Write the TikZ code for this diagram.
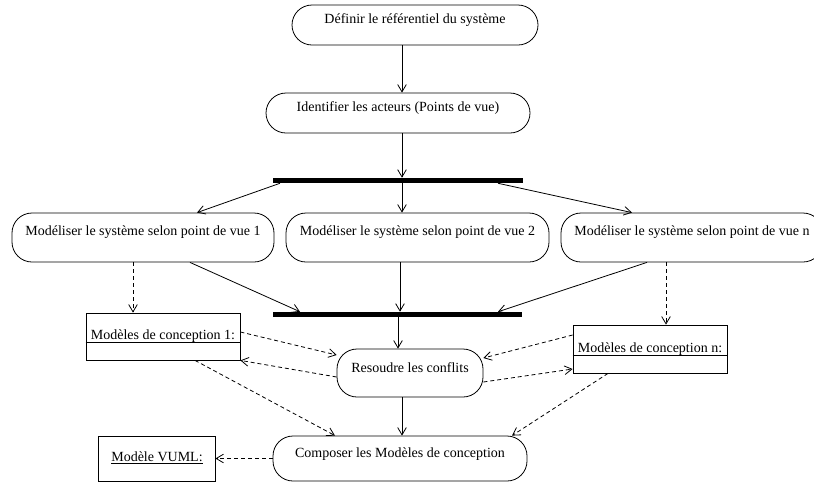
\documentclass[tikz,border=0pt]{standalone}
\usepackage{fontspec}
\setmainfont{Liberation Serif}
\usetikzlibrary{arrows.meta,fit}
\tikzset{
  act/.style={draw, rounded corners=15pt, inner sep=0pt, line width=0.6pt, font=\fontsize{10.5}{12}\selectfont},
  obj/.style={draw, inner sep=0pt, line width=0.6pt},
  lbl/.style={inner sep=0pt, font=\fontsize{10.5}{12}\selectfont},
  bar/.style={fill=black, inner sep=0pt},
  flow/.style={line width=0.6pt, -{Straight Barb[length=5.5pt,width=6.5pt]}},
  dep/.style={flow, dash pattern=on 3pt off 2.2pt}
}
\begin{document}
\begin{tikzpicture}[x=0.75pt,y=-0.75pt]
\useasboundingbox (0,0) rectangle (814,483);
\clip (0,0) rectangle (814,483);
% activities
\node[act, fit={(292,5)(538,45)}] (A) {Définir le référentiel du système};
\node[act, fit={(266,93)(530,133)}] (B) {Identifier les acteurs (Points de vue)};
\node[bar, fit={(273,178)(523,183)}] (bar1) {};
\node[act, fit={(12,213)(274,262)}] (v1) {Modéliser le système selon point de vue 1};
\node[act, fit={(286,213)(549,262)}] (v2) {Modéliser le système selon point de vue 2};
\node[act, fit={(561,213)(823,262)}] (vn) {Modéliser le système selon point de vue n};
\node[bar, fit={(273,312)(522,317)}] (bar2) {};
\node[act, fit={(337,349)(483,397)}] (res) {Resoudre les conflits};
\node[act, fit={(273,436)(527,481)}] (comp) {Composer les Modèles de conception};
% objects
\node[obj, fit={(86,313)(240,360)}] (mc1) {};
\node[lbl, anchor=base] (mc1t) at (163,339.5) {Modèles de conception 1:};
\draw[line width=0.6pt] (mc1.west |- 0,342) -- (mc1.east |- 0,342);
\node[obj, fit={(573,325)(727,373)}] (mcn) {};
\node[lbl, anchor=base] (mcnt) at (650,352) {Modèles de conception n:};
\draw[line width=0.6pt] (mcn.west |- 0,355) -- (mcn.east |- 0,355);
\node[obj, fit={(98,436)(215,481)}] (vuml) {};
\node[lbl] (vumlt) at (157,458) {\underline{Modèle VUML:}};
% control flow
\draw[flow] (A.south -| 402,0) -- (B.north -| 402,0);
\draw[flow] (B.south -| 402,0) -- (bar1.north -| 402,0);
\draw[flow] (bar1.south -| 280,0) -- (v1.north -| 197,0);
\draw[flow] (bar1.south -| 402,0) -- (v2.north -| 402,0);
\draw[flow] (bar1.south -| 498,0) -- (vn.north -| 632,0);
\draw[flow] (v1.south -| 190,0) -- (bar2.north -| 300,0);
\draw[flow] (v2.south -| 400,0) -- (bar2.north -| 400,0);
\draw[flow] (vn.south -| 647,0) -- (bar2.north -| 498,0);
\draw[flow] (bar2.south -| 398,0) -- (res.north -| 398,0);
\draw[flow] (res.south -| 402,0) -- (comp.north -| 402,0);
% object flow
\draw[dep] (v1.south -| 133,0) -- (mc1.north -| 133,0);
\draw[dep] (vn.south -| 666,0) -- (mcn.north -| 666,0);
\draw[dep] (mc1.east |- 0,332) -- (res.west |- 0,355);
\draw[dep] (res.west |- 0,377) -- (mc1.south east);
\draw[dep] (mc1.south -| 195,0) -- (comp.north -| 335,0);
\draw[dep] (res.east |- 0,382) -- (mcn.west |- 0,369);
\draw[dep] (mcn.west |- 0,335) -- (res.east |- 0,358);
\draw[dep] (mcn.south -| 608,0) -- (comp.north -| 512,0);
\draw[dep] (comp.west) -- (vuml.east);
\end{tikzpicture}
\end{document}
